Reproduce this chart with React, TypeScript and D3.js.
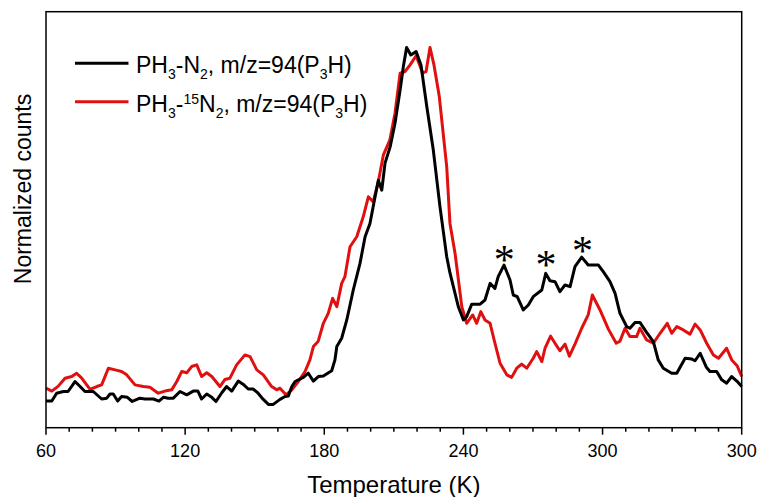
import React from "react";
import * as d3 from "d3";

// PH3-N2 series, [temperature (K), normalized counts]
const blackSeries: [number, number][] = [
  [60.0, 0.064], [62.5, 0.064], [64.6, 0.083], [67.5, 0.087], [69.5, 0.087],
  [72.5, 0.111], [74.7, 0.099], [76.8, 0.087], [80.4, 0.087], [84.0, 0.069],
  [86.2, 0.071], [87.6, 0.081], [89.0, 0.081], [90.9, 0.064], [92.6, 0.075],
  [95.1, 0.073], [97.2, 0.063], [100.5, 0.071], [102.7, 0.069], [106.3, 0.069],
  [108.7, 0.064], [110.6, 0.073], [112.7, 0.071], [114.9, 0.071], [117.8, 0.087],
  [120.7, 0.079], [123.5, 0.088], [125.5, 0.088], [127.1, 0.069], [129.3, 0.081],
  [131.5, 0.073], [133.3, 0.063], [135.8, 0.084], [137.9, 0.099], [140.1, 0.088],
  [142.9, 0.112], [145.1, 0.104], [147.2, 0.093], [149.3, 0.093], [151.1, 0.085],
  [153.7, 0.068], [155.9, 0.056], [158.0, 0.056], [160.9, 0.068], [163.1, 0.075],
  [164.5, 0.076], [166.0, 0.099], [167.4, 0.111], [171.0, 0.121], [173.1, 0.131],
  [175.3, 0.112], [177.4, 0.123], [179.6, 0.124], [183.2, 0.137], [184.6, 0.163],
  [185.4, 0.195], [187.5, 0.215], [189.7, 0.259], [192.5, 0.331], [195.4, 0.395],
  [197.6, 0.459], [199.7, 0.491], [201.9, 0.555], [203.3, 0.595], [204.8, 0.571],
  [206.2, 0.636], [208.4, 0.675], [210.5, 0.732], [212.7, 0.812], [214.1, 0.868],
  [215.5, 0.914], [217.3, 0.896], [219.6, 0.904], [221.7, 0.872], [224.2, 0.772],
  [227.0, 0.668], [229.9, 0.531], [232.8, 0.411], [234.2, 0.372], [237.8, 0.291],
  [240.0, 0.259], [241.4, 0.267], [243.6, 0.297], [247.2, 0.297], [249.3, 0.307],
  [251.5, 0.347], [253.6, 0.335], [255.0, 0.363], [257.5, 0.391], [260.1, 0.355],
  [261.5, 0.319], [263.2, 0.315], [265.8, 0.283], [268.0, 0.295], [270.1, 0.315],
  [273.8, 0.331], [275.5, 0.371], [277.3, 0.353], [279.5, 0.351], [281.6, 0.327],
  [283.8, 0.343], [286.0, 0.339], [288.1, 0.387], [291.0, 0.41], [293.8, 0.391],
  [298.2, 0.391], [300.3, 0.375], [303.2, 0.351], [305.4, 0.323], [307.5, 0.275],
  [310.4, 0.243], [311.8, 0.239], [314.0, 0.253], [316.1, 0.253], [319.0, 0.229],
  [321.9, 0.207], [324.0, 0.163], [326.2, 0.143], [329.8, 0.131], [332.0, 0.131],
  [335.6, 0.167], [338.5, 0.165], [339.9, 0.161], [342.1, 0.179], [344.7, 0.146],
  [346.3, 0.135], [349.2, 0.135], [351.4, 0.115], [353.5, 0.107], [355.7, 0.123],
  [357.9, 0.112], [360.0, 0.099],
];

// PH3-15N2 series
const redSeries: [number, number][] = [
  [60.0, 0.095], [62.5, 0.088], [65.3, 0.1], [68.2, 0.119], [71.1, 0.123],
  [73.2, 0.131], [75.4, 0.119], [79.0, 0.092], [81.9, 0.099], [84.0, 0.103],
  [86.9, 0.143], [89.8, 0.139], [92.6, 0.135], [94.8, 0.127], [98.4, 0.103],
  [102.0, 0.099], [104.8, 0.097], [108.4, 0.083], [111.3, 0.088], [114.2, 0.091],
  [116.4, 0.111], [118.5, 0.135], [120.7, 0.132], [122.8, 0.147], [125.0, 0.151],
  [127.1, 0.123], [129.3, 0.132], [131.5, 0.123], [135.0, 0.099], [137.2, 0.116],
  [139.3, 0.119], [142.2, 0.151], [145.8, 0.175], [148.0, 0.171], [150.9, 0.139],
  [153.7, 0.127], [157.3, 0.099], [159.5, 0.091], [160.9, 0.095], [163.5, 0.079],
  [166.0, 0.091], [168.8, 0.111], [171.7, 0.135], [173.8, 0.163], [175.3, 0.195],
  [177.4, 0.208], [179.6, 0.251], [181.7, 0.275], [183.6, 0.311], [185.4, 0.291],
  [187.5, 0.347], [188.9, 0.363], [191.1, 0.435], [194.0, 0.459], [196.8, 0.507],
  [199.0, 0.555], [201.1, 0.543], [203.3, 0.591], [205.5, 0.656], [208.3, 0.692],
  [210.5, 0.756], [212.7, 0.852], [214.8, 0.856], [217.0, 0.872], [219.6, 0.894],
  [222.4, 0.853], [223.9, 0.856], [225.6, 0.914], [227.3, 0.872], [229.6, 0.796],
  [232.8, 0.627], [234.2, 0.491], [236.4, 0.419], [239.3, 0.291], [241.4, 0.251],
  [244.0, 0.271], [245.7, 0.251], [247.5, 0.279], [249.3, 0.259], [251.5, 0.251],
  [253.6, 0.203], [255.8, 0.155], [258.7, 0.127], [260.8, 0.121], [263.0, 0.143],
  [265.1, 0.153], [267.3, 0.143], [270.1, 0.167], [271.6, 0.183], [273.8, 0.159],
  [275.2, 0.191], [277.6, 0.22], [279.5, 0.203], [281.6, 0.185], [283.8, 0.201],
  [285.7, 0.172], [288.1, 0.201], [291.0, 0.239], [293.8, 0.271], [295.6, 0.319],
  [298.9, 0.283], [302.5, 0.237], [305.9, 0.203], [307.5, 0.208], [309.7, 0.239],
  [311.8, 0.219], [314.7, 0.219], [316.1, 0.239], [319.0, 0.211], [321.9, 0.203],
  [324.8, 0.227], [327.9, 0.251], [329.8, 0.227], [332.0, 0.243], [334.8, 0.235],
  [337.7, 0.225], [339.9, 0.249], [342.1, 0.235], [344.9, 0.203], [347.8, 0.175],
  [350.0, 0.167], [353.5, 0.191], [355.7, 0.163], [358.0, 0.149], [360.0, 0.123],
];

// asterisk annotations over the black side peaks
const starTemps = [257.6, 275.6, 291.3];
const starValues = [0.421, 0.407, 0.442];

const majorTicks = [60, 120, 180, 240, 300, 360];
const majorLabels = ["60", "120", "180", "240", "300", "300"];

const width = 760;
const height = 497;
const plot = { left: 46, right: 741.7, top: 11.7, bottom: 427.7 };
const font = "Arial, 'Liberation Sans', sans-serif";

export default function App() {
  const x = d3.scaleLinear().domain([60, 360]).range([plot.left, plot.right]);
  const y = d3.scaleLinear().domain([0, 1]).range([plot.bottom, plot.top]);

  const line = d3
    .line<[number, number]>()
    .x((d) => x(d[0]))
    .y((d) => y(d[1]));

  const minorTicks = d3.range(60, 361, 10).filter((t) => !majorTicks.includes(t));

  return (
    <svg
      width={width}
      height={height}
      style={{ position: "absolute", left: 0, top: 0, background: "#fff" }}
      fontFamily={font}
    >
      <path d={line(redSeries) ?? ""} fill="none" stroke="#e01010" strokeWidth={3} strokeLinejoin="round" />
      <path d={line(blackSeries) ?? ""} fill="none" stroke="#000" strokeWidth={3} strokeLinejoin="round" />

      {/* frame */}
      <rect
        x={plot.left}
        y={plot.top}
        width={plot.right - plot.left}
        height={plot.bottom - plot.top}
        fill="none"
        stroke="#000"
        strokeWidth={1.5}
      />

      {/* bottom ticks */}
      {minorTicks.map((t) => (
        <line key={"m" + t} x1={x(t)} x2={x(t)} y1={plot.bottom} y2={plot.bottom + 4} stroke="#000" strokeWidth={1.5} />
      ))}
      {majorTicks.map((t, i) => (
        <g key={"M" + t}>
          <line x1={x(t)} x2={x(t)} y1={plot.bottom} y2={plot.bottom + 7} stroke="#000" strokeWidth={1.5} />
          <text x={x(t)} y={457} textAnchor="middle" fontSize={18}>
            {majorLabels[i]}
          </text>
        </g>
      ))}

      <text x={(plot.left + plot.right) / 2} y={493} textAnchor="middle" fontSize={24}>
        Temperature (K)
      </text>
      <text transform="translate(31,189) rotate(-90)" textAnchor="middle" fontSize={23}>
        Normalized counts
      </text>

      {/* asterisks */}
      {starTemps.map((t, i) => (
        <text
          key={"s" + i}
          x={x(t)}
          y={y(starValues[i]) + 21}
          textAnchor="middle"
          fontSize={42}
          fontFamily="'Liberation Serif', 'Times New Roman', serif"
        >
          *
        </text>
      ))}

      {/* legend */}
      <line x1={75} x2={128.5} y1={63.3} y2={63.3} stroke="#000" strokeWidth={3} />
      <text x={136} y={73} fontSize={23}>
        PH<tspan fontSize={14} dy={6}>3</tspan>
        <tspan dy={-6}>-N</tspan>
        <tspan fontSize={14} dy={6}>2</tspan>
        <tspan dy={-6}>, m/z=94(P</tspan>
        <tspan fontSize={14} dy={6}>3</tspan>
        <tspan dy={-6}>H)</tspan>
      </text>
      <line x1={75} x2={128.5} y1={101.7} y2={101.7} stroke="#e01010" strokeWidth={3} />
      <text x={136} y={111.5} fontSize={23}>
        PH<tspan fontSize={14} dy={6}>3</tspan>
        <tspan dy={-6}>-</tspan>
        <tspan fontSize={14} dy={-8}>15</tspan>
        <tspan dy={8}>N</tspan>
        <tspan fontSize={14} dy={6}>2</tspan>
        <tspan dy={-6}>, m/z=94(P</tspan>
        <tspan fontSize={14} dy={6}>3</tspan>
        <tspan dy={-6}>H)</tspan>
      </text>
    </svg>
  );
}
